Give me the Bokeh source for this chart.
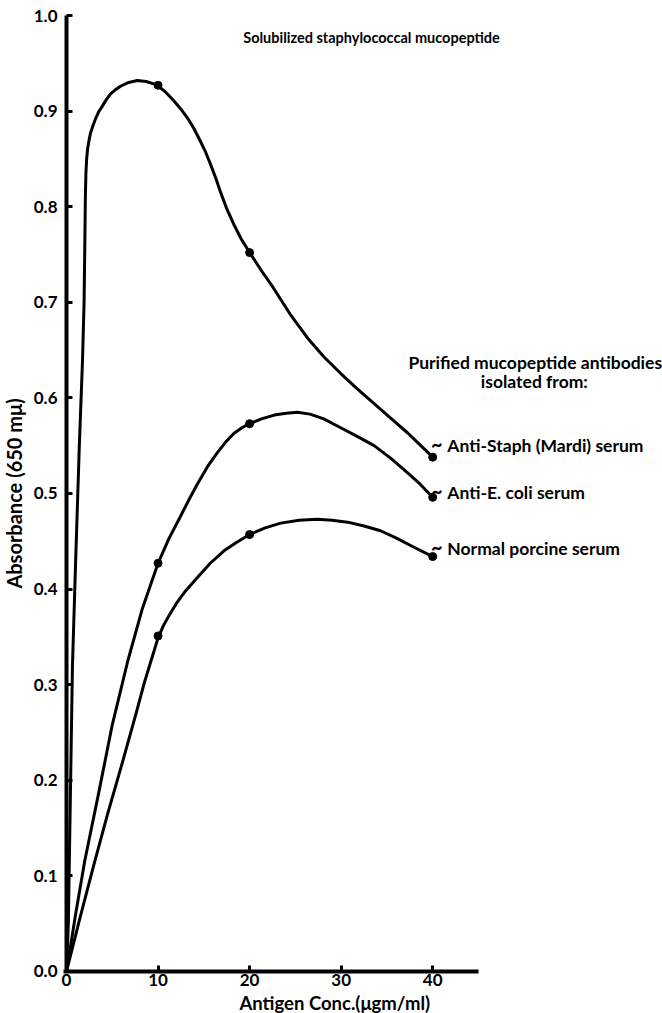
from bokeh.plotting import figure
from bokeh.models import Label, Range1d, FixedTicker, PrintfTickFormatter
from bokeh.embed import file_html
from bokeh.resources import INLINE

# ---- data: measured points ----
conc_marks = [10, 20, 40]
staph_marks = [0.927, 0.752, 0.538]
ecoli_marks = [0.427, 0.573, 0.496]
porcine_marks = [0.351, 0.457, 0.434]

# ---- hand-drawn curves ----
staph_curve_x = [0, 0.2, 0.4, 0.65, 1.0, 1.4, 1.75, 1.92, 2.0, 2.06, 2.12, 2.2, 2.3, 2.45, 2.62, 2.9,
                 3.17, 3.5, 3.9, 4.35, 4.81, 5.3, 5.9, 6.8, 7.73, 8.7, 9.7, 10.7, 11.7, 12.5, 13.2, 13.9,
                 14.6, 15.2, 15.7, 16.3, 16.8, 17.5, 18.3, 19.1, 20, 21.3, 22.6, 24.4, 26.3, 28.1, 29.9,
                 31.7, 33.6, 35.5, 37.3, 38.7, 40]
staph_curve_y = [0, 0.05, 0.17, 0.32, 0.43, 0.55, 0.64, 0.70, 0.76, 0.81, 0.835, 0.850, 0.860, 0.869, 0.877,
                 0.885, 0.892, 0.899, 0.905, 0.912, 0.918, 0.922, 0.926, 0.930, 0.932, 0.931, 0.928, 0.921,
                 0.911, 0.902, 0.893, 0.882, 0.869, 0.857, 0.845, 0.830, 0.816, 0.798, 0.781, 0.766, 0.752,
                 0.733, 0.715, 0.688, 0.663, 0.643, 0.626, 0.610, 0.594, 0.578, 0.563, 0.550, 0.538]

ecoli_curve_x = [0, 1, 2.0, 3.5, 5, 6.7, 8.3, 10, 11.2, 12.5, 13.4, 14.3, 15.4, 16.5, 17.4, 18.3, 19.2, 20,
                 21.3, 22.7, 24, 25.2, 26.6, 28.1, 29.9, 31.7, 33.6, 35.4, 37.2, 38.6, 40]
ecoli_curve_y = [0, 0.06, 0.116, 0.186, 0.258, 0.325, 0.380, 0.427, 0.453, 0.477, 0.494, 0.510, 0.528, 0.543,
                 0.554, 0.563, 0.569, 0.573, 0.578, 0.582, 0.584, 0.585, 0.583, 0.578, 0.569, 0.560, 0.550,
                 0.537, 0.522, 0.510, 0.496]

porcine_curve_x = [0, 1.5, 3.0, 4.5, 6.0, 7.6, 8.5, 9.2, 10, 10.6, 11.3, 12, 13, 14.3, 15.7, 17.2, 18.6, 20,
                   21.7, 23.4, 25.4, 27.4, 29, 30.7, 32.5, 34.3, 36.1, 37.9, 40]
porcine_curve_y = [0, 0.057, 0.112, 0.165, 0.215, 0.270, 0.302, 0.324, 0.349, 0.362, 0.374, 0.385, 0.398,
                   0.412, 0.427, 0.440, 0.449, 0.457, 0.464, 0.469, 0.472, 0.473, 0.472, 0.470, 0.466, 0.461,
                   0.453, 0.444, 0.434]

x_ticks = [0, 10, 20, 30, 40]
y_ticks = [0.0, 0.1, 0.2, 0.3, 0.4, 0.5, 0.6, 0.7, 0.8, 0.9, 1.0]

FONT = "Lato"

p = figure(width=662, height=1013,
           min_border_left=0, min_border_right=0, min_border_top=0, min_border_bottom=0,
           x_range=Range1d(-7.21, 65.1), y_range=Range1d(-0.044, 1.0157),
           output_backend="svg", toolbar_location=None, tools="")
p.outline_line_color = None
p.grid.visible = False
p.background_fill_color = "white"
p.border_fill_color = "white"

for ax in (p.xaxis[0], p.yaxis[0]):
    ax.axis_line_width = 4
    ax.axis_line_color = "black"
    ax.major_tick_in = 6
    ax.major_tick_out = 0
    ax.major_tick_line_width = 3
    ax.minor_tick_line_color = None
    ax.major_label_text_font = FONT
    ax.major_label_text_font_style = "bold"
    ax.major_label_text_font_size = "17px"
    ax.major_label_text_color = "black"

p.xaxis.fixed_location = 0
p.yaxis.fixed_location = 0
p.xaxis.bounds = (-0.3, 45)
p.yaxis.bounds = (0, 1.0)
p.xaxis.ticker = FixedTicker(ticks=x_ticks)
p.yaxis.ticker = FixedTicker(ticks=y_ticks)
p.yaxis.formatter = PrintfTickFormatter(format="%.1f")
p.xaxis.major_label_standoff = 3
p.yaxis.major_label_standoff = 9

p.yaxis.axis_label = "Absorbance (650 m\u03bc)"
p.yaxis.axis_label_text_font = FONT
p.yaxis.axis_label_text_font_style = "bold"
p.yaxis.axis_label_text_font_size = "20px"
p.yaxis.axis_label_text_color = "black"
p.yaxis.axis_label_standoff = 5

# curves
for cx, cy in ((staph_curve_x, staph_curve_y), (ecoli_curve_x, ecoli_curve_y),
               (porcine_curve_x, porcine_curve_y)):
    p.line(cx, cy, line_color="black", line_width=3, line_join="round", line_cap="round")

for my in (staph_marks, ecoli_marks, porcine_marks):
    p.scatter(conc_marks, my, size=8, color="black")

def lab(x, y, text, size="15px", align="left"):
    p.add_layout(Label(x=x, y=y, text=text, text_font=FONT, text_font_style="bold",
                       text_font_size=size, text_align=align, text_baseline="middle",
                       text_color="black"))

lab(19.3, 0.977, "Solubilized staphylococcal mucopeptide", size="14.5px")
lab(51.2, 0.637, "Purified mucopeptide antibodies", size="17.5px", align="center")
lab(51.1, 0.617, "isolated from:", size="17.5px", align="center")
lab(39.8, 0.552, "~", size="20px")
lab(41.6, 0.550, "Anti-Staph (Mardi) serum", size="17.5px")
lab(39.8, 0.503, "~", size="20px")
lab(41.6, 0.501, "Anti-E. coli serum", size="17.5px")
lab(39.8, 0.444, "~", size="20px")
lab(41.6, 0.442, "Normal porcine serum", size="17.5px")
lab(29.3, -0.0335, "Antigen Conc.(\u03bcgm/ml)", size="18.5px", align="center")

open("out.html", "w").write(file_html(p, INLINE))
